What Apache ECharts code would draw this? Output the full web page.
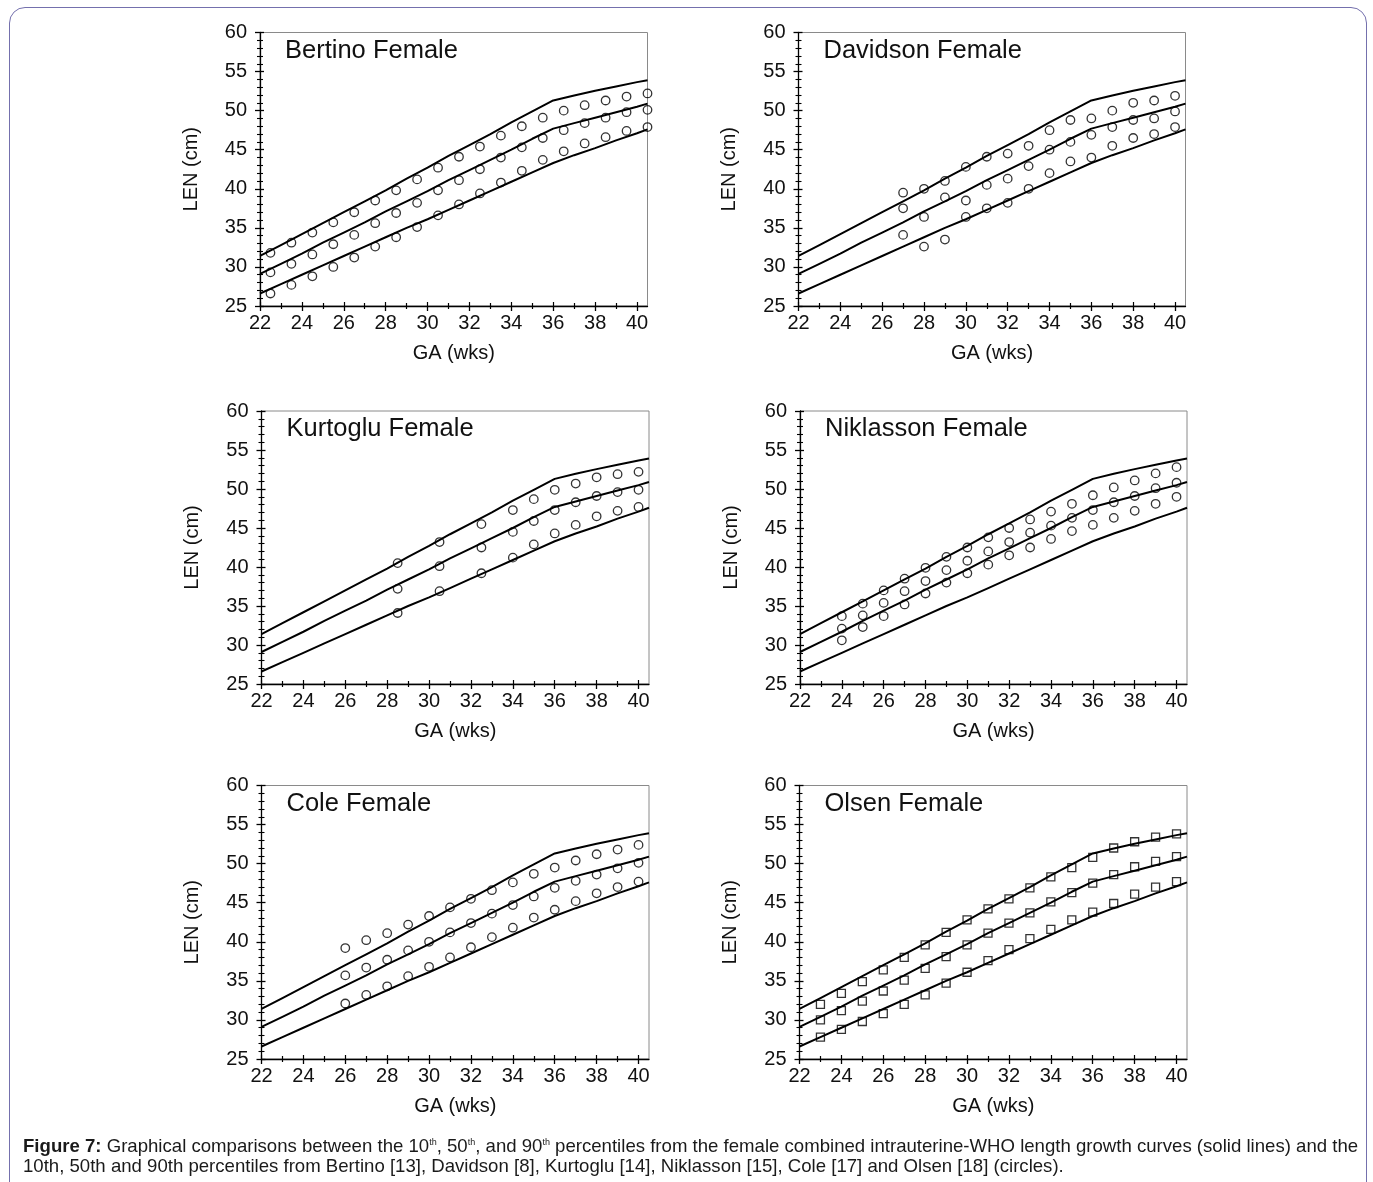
<!DOCTYPE html>
<html>
<head>
<meta charset="utf-8">
<script src="https://cdn.jsdelivr.net/npm/echarts@6/dist/echarts.min.js"></script>
<style>
  html, body { margin: 0; padding: 0; background: #fff; }
  #frame {
    position: absolute; left: 9px; top: 7px; width: 1358px; height: 1200px;
    border: 1px solid #7470ad; border-radius: 16px; box-sizing: border-box;
  }
  #chart { position: absolute; left: 0; top: 0; width: 1373px; height: 1182px; }
  #caption {
    position: absolute; left: 23px; top: 1136px; width: 1334px;
    font-family: "Liberation Sans", Arial, sans-serif; font-size: 18.6px; line-height: 20px; color: #1a1a1a;
  }
  #caption .l1 { display: block; text-align: justify; text-align-last: justify; white-space: nowrap; }
  #caption .l2 { display: block; white-space: nowrap; }
  #caption sup { font-size: 9px; vertical-align: 7px; line-height: 0; }
</style>
</head>
<body>
<div id="frame"></div>
<div id="chart"></div>
<div id="caption"><span class="l1"><b>Figure 7:</b> Graphical comparisons between the 10<sup>th</sup>, 50<sup>th</sup>, and 90<sup>th</sup> percentiles from the female combined intrauterine-WHO length growth curves (solid lines) and the</span><span class="l2">10th, 50th and 90th percentiles from Bertino [13], Davidson [8], Kurtoglu [14], Niklasson [15], Cole [17] and Olsen [18] (circles).</span></div>
<script>
// Combined intrauterine-WHO female length curves (cm) by gestational age (weeks)
const whoWeeks = [22, 23, 24, 25, 26, 27, 28, 29, 30, 31, 32, 33, 34, 35, 36, 37, 38, 39, 40, 40.5];
const who90 = [31.4, 32.8, 34.2, 35.6, 37.0, 38.4, 39.8, 41.3, 42.7, 44.2, 45.6, 47.0, 48.5, 49.9, 51.3, 51.95, 52.55, 53.1, 53.65, 53.9];
const who50 = [29.1, 30.4, 31.7, 33.1, 34.4, 35.7, 37.1, 38.4, 39.7, 41.1, 42.4, 43.7, 45.0, 46.4, 47.7, 48.4, 49.1, 49.8, 50.5, 50.9];
const who10 = [26.6, 27.8, 29.0, 30.2, 31.4, 32.6, 33.8, 35.0, 36.1, 37.3, 38.5, 39.7, 40.9, 42.1, 43.3, 44.3, 45.2, 46.2, 47.1, 47.6];

// Bertino
const bertinoWeeks = [22.5, 23.5, 24.5, 25.5, 26.5, 27.5, 28.5, 29.5, 30.5, 31.5, 32.5, 33.5, 34.5, 35.5, 36.5, 37.5, 38.5, 39.5, 40.5];
const bertino90 = [31.8, 33.1, 34.4, 35.7, 37.0, 38.5, 39.8, 41.2, 42.7, 44.1, 45.4, 46.8, 48.0, 49.1, 50.0, 50.7, 51.3, 51.8, 52.2];
const bertino50 = [29.3, 30.4, 31.6, 32.9, 34.1, 35.6, 36.9, 38.2, 39.8, 41.1, 42.5, 44.0, 45.3, 46.5, 47.5, 48.4, 49.1, 49.8, 50.1];
const bertino10 = [26.6, 27.7, 28.8, 30.0, 31.2, 32.6, 33.8, 35.1, 36.6, 38.0, 39.4, 40.8, 42.3, 43.7, 44.8, 45.8, 46.6, 47.4, 47.9];

// Davidson
const davidsonWeeks = [27, 28, 29, 30, 31, 32, 33, 34, 35, 36, 37, 38, 39, 40];
const davidson90 = [39.5, 40.0, 41.0, 42.8, 44.1, 44.5, 45.5, 47.5, 48.8, 49.0, 50.0, 51.0, 51.3, 51.9];
const davidson50 = [37.5, 36.4, 38.9, 38.5, 40.5, 41.3, 42.9, 45.0, 46.0, 46.9, 47.9, 48.8, 49.0, 49.9];
const davidson10 = [34.1, 32.6, 33.5, 36.4, 37.5, 38.2, 40.0, 42.0, 43.5, 44.0, 45.5, 46.5, 47.0, 47.9];

// Kurtoglu
const kurtogluWeeks = [28.5, 30.5, 32.5, 34, 35, 36, 37, 38, 39, 40];
const kurtoglu90 = [40.5, 43.2, 45.5, 47.3, 48.7, 49.9, 50.7, 51.5, 51.9, 52.2];
const kurtoglu50 = [37.2, 40.1, 42.5, 44.5, 45.9, 47.3, 48.3, 49.1, 49.6, 49.9];
const kurtoglu10 = [34.1, 36.9, 39.2, 41.2, 42.9, 44.3, 45.4, 46.5, 47.2, 47.7];

// Niklasson
const niklassonWeeks = [24, 25, 26, 27, 28, 29, 30, 31, 32, 33, 34, 35, 36, 37, 38, 39, 40];
const niklasson90 = [33.7, 35.3, 37.0, 38.5, 39.9, 41.3, 42.5, 43.8, 45.0, 46.1, 47.1, 48.1, 49.2, 50.2, 51.1, 52.0, 52.8];
const niklasson50 = [32.1, 33.8, 35.4, 36.9, 38.2, 39.6, 40.8, 42.0, 43.2, 44.4, 45.3, 46.3, 47.3, 48.3, 49.1, 50.1, 50.8];
const niklasson10 = [30.6, 32.3, 33.7, 35.2, 36.6, 38.0, 39.2, 40.3, 41.5, 42.5, 43.6, 44.6, 45.4, 46.3, 47.2, 48.1, 49.0];

// Cole
const coleWeeks = [26, 27, 28, 29, 30, 31, 32, 33, 34, 35, 36, 37, 38, 39, 40];
const cole90 = [39.2, 40.2, 41.1, 42.2, 43.3, 44.4, 45.5, 46.6, 47.6, 48.7, 49.5, 50.4, 51.2, 51.8, 52.4];
const cole50 = [35.7, 36.7, 37.7, 38.9, 40.0, 41.2, 42.4, 43.6, 44.7, 45.8, 46.9, 47.8, 48.6, 49.4, 50.1];
const cole10 = [32.1, 33.2, 34.3, 35.6, 36.8, 38.0, 39.3, 40.6, 41.8, 43.1, 44.1, 45.2, 46.2, 47.0, 47.7];

// Olsen
const olsenWeeks = [23, 24, 25, 26, 27, 28, 29, 30, 31, 32, 33, 34, 35, 36, 37, 38, 39, 40];
const olsen90 = [32.0, 33.4, 34.9, 36.4, 38.0, 39.6, 41.2, 42.8, 44.2, 45.5, 46.9, 48.3, 49.5, 50.8, 52.0, 52.8, 53.4, 53.8];
const olsen50 = [30.0, 31.2, 32.4, 33.7, 35.1, 36.6, 38.1, 39.6, 41.1, 42.4, 43.7, 45.1, 46.3, 47.5, 48.6, 49.6, 50.3, 50.9];
const olsen10 = [27.8, 28.8, 29.8, 30.8, 32.0, 33.2, 34.7, 36.1, 37.6, 39.0, 40.4, 41.6, 42.8, 43.8, 44.9, 46.1, 47.0, 47.7];

// Axis tick marks
const xMajorTicks = [22, 24, 26, 28, 30, 32, 34, 36, 38, 40];
const xMinorTicks = [23, 25, 27, 29, 31, 33, 35, 37, 39];

const panels = [
  { title: 'Bertino Female',   weeks: bertinoWeeks,   p10: bertino10,   p50: bertino50,   p90: bertino90,   symbol: 'circle' },
  { title: 'Davidson Female',  weeks: davidsonWeeks,  p10: davidson10,  p50: davidson50,  p90: davidson90,  symbol: 'circle' },
  { title: 'Kurtoglu Female',  weeks: kurtogluWeeks,  p10: kurtoglu10,  p50: kurtoglu50,  p90: kurtoglu90,  symbol: 'circle' },
  { title: 'Niklasson Female', weeks: niklassonWeeks, p10: niklasson10, p50: niklasson50, p90: niklasson90, symbol: 'circle' },
  { title: 'Cole Female',      weeks: coleWeeks,      p10: cole10,      p50: cole50,      p90: cole90,      symbol: 'circle' },
  { title: 'Olsen Female',     weeks: olsenWeeks,     p10: olsen10,     p50: olsen50,     p90: olsen90,     symbol: 'rect' }
];

// Plot rectangles (px) in a 2 x 3 arrangement
const boxes = [
  { left: 260,   top: 32.5,  width: 387.5, height: 273.5 },
  { left: 798.5, top: 32.5,  width: 387,   height: 273.5 },
  { left: 261.5, top: 411,   width: 387.5, height: 273 },
  { left: 800,   top: 411,   width: 387,   height: 273 },
  { left: 261.5, top: 785.5, width: 387.5, height: 273.5 },
  { left: 799.5, top: 785.5, width: 387.5, height: 273.5 }
];

const FONT = '"Liberation Sans", Arial, sans-serif';
const pairs = (xs, ys) => xs.map((x, i) => [x, ys[i]]);

const grid = [], xAxis = [], yAxis = [], series = [], title = [];

panels.forEach((p, g) => {
  const b = boxes[g];
  grid.push({ left: b.left, top: b.top, width: b.width, height: b.height, show: true, borderColor: '#8a8a8a', borderWidth: 1, backgroundColor: 'transparent' });

  title.push({
    text: p.title, left: b.left + 25, top: b.top + 5, padding: 0,
    textStyle: { fontFamily: FONT, fontSize: 25.5, fontWeight: 'normal', color: '#111' }
  });

  const xBase = { gridIndex: g, type: 'value', position: 'bottom', min: 22, max: 40.5, splitLine: { show: false } };
  // main x axis: line, labels, outward major ticks
  xAxis.push(Object.assign({}, xBase, {
    name: 'GA (wks)', nameLocation: 'middle', nameGap: 37,
    nameTextStyle: { fontFamily: FONT, fontSize: 20, color: '#111' },
    axisLine: { show: true, lineStyle: { color: '#000', width: 1.3 } },
    axisTick: { show: true, customValues: xMajorTicks, length: 5, lineStyle: { color: '#000', width: 1.3 } },
    axisLabel: { customValues: xMajorTicks, margin: 7, fontFamily: FONT, fontSize: 20, color: '#111' }
  }));
  const xTick = (vals, len, inside) => Object.assign({}, xBase, {
    axisLine: { show: false },
    axisTick: { show: true, customValues: vals, length: len, inside: inside, lineStyle: { color: '#000', width: 1.2 } },
    axisLabel: { show: false }
  });
  xAxis.push(xTick(xMajorTicks, 4, true));
  xAxis.push(xTick(xMinorTicks, 3, false));
  xAxis.push(xTick(xMinorTicks, 3, true));

  const yBase = { gridIndex: g, type: 'value', position: 'left', min: 25, max: 60, interval: 5, splitLine: { show: false } };
  yAxis.push(Object.assign({}, yBase, {
    name: 'LEN (cm)', nameLocation: 'middle', nameGap: 59,
    nameTextStyle: { fontFamily: FONT, fontSize: 20, color: '#111' },
    axisLine: { show: true, lineStyle: { color: '#000', width: 1.3 } },
    axisTick: { show: true, length: 5, lineStyle: { color: '#000', width: 1.3 } },
    minorTick: { show: true, splitNumber: 5, length: 3, lineStyle: { color: '#000', width: 1.1 } },
    axisLabel: { margin: 13, fontFamily: FONT, fontSize: 20, color: '#111' }
  }));
  yAxis.push(Object.assign({}, yBase, {
    axisLine: { show: false },
    axisTick: { show: true, inside: true, length: 4, lineStyle: { color: '#000', width: 1.3 } },
    minorTick: { show: true, splitNumber: 5, length: 3, lineStyle: { color: '#000', width: 1.1 } },
    axisLabel: { show: false }
  }));

  const xi = g * 4, yi = g * 2;
  [who10, who50, who90].forEach(curve => {
    series.push({
      type: 'line', xAxisIndex: xi, yAxisIndex: yi, data: pairs(whoWeeks, curve),
      showSymbol: false, symbol: 'none', silent: true, z: 2,
      lineStyle: { color: '#000', width: 2 }
    });
  });
  [p.p10, p.p50, p.p90].forEach(vals => {
    series.push({
      type: 'scatter', xAxisIndex: xi, yAxisIndex: yi, data: pairs(p.weeks, vals),
      symbol: p.symbol, symbolSize: p.symbol === 'rect' ? 8 : 8.5, silent: true, z: 3,
      itemStyle: { color: 'rgba(0,0,0,0)', borderColor: '#000', borderWidth: 1.3 }
    });
  });
});

const chart = echarts.init(document.getElementById('chart'), null, { renderer: 'canvas' });
chart.setOption({
  animation: false,
  backgroundColor: 'transparent',
  title, grid, xAxis, yAxis, series
});
</script>
</body>
</html>
